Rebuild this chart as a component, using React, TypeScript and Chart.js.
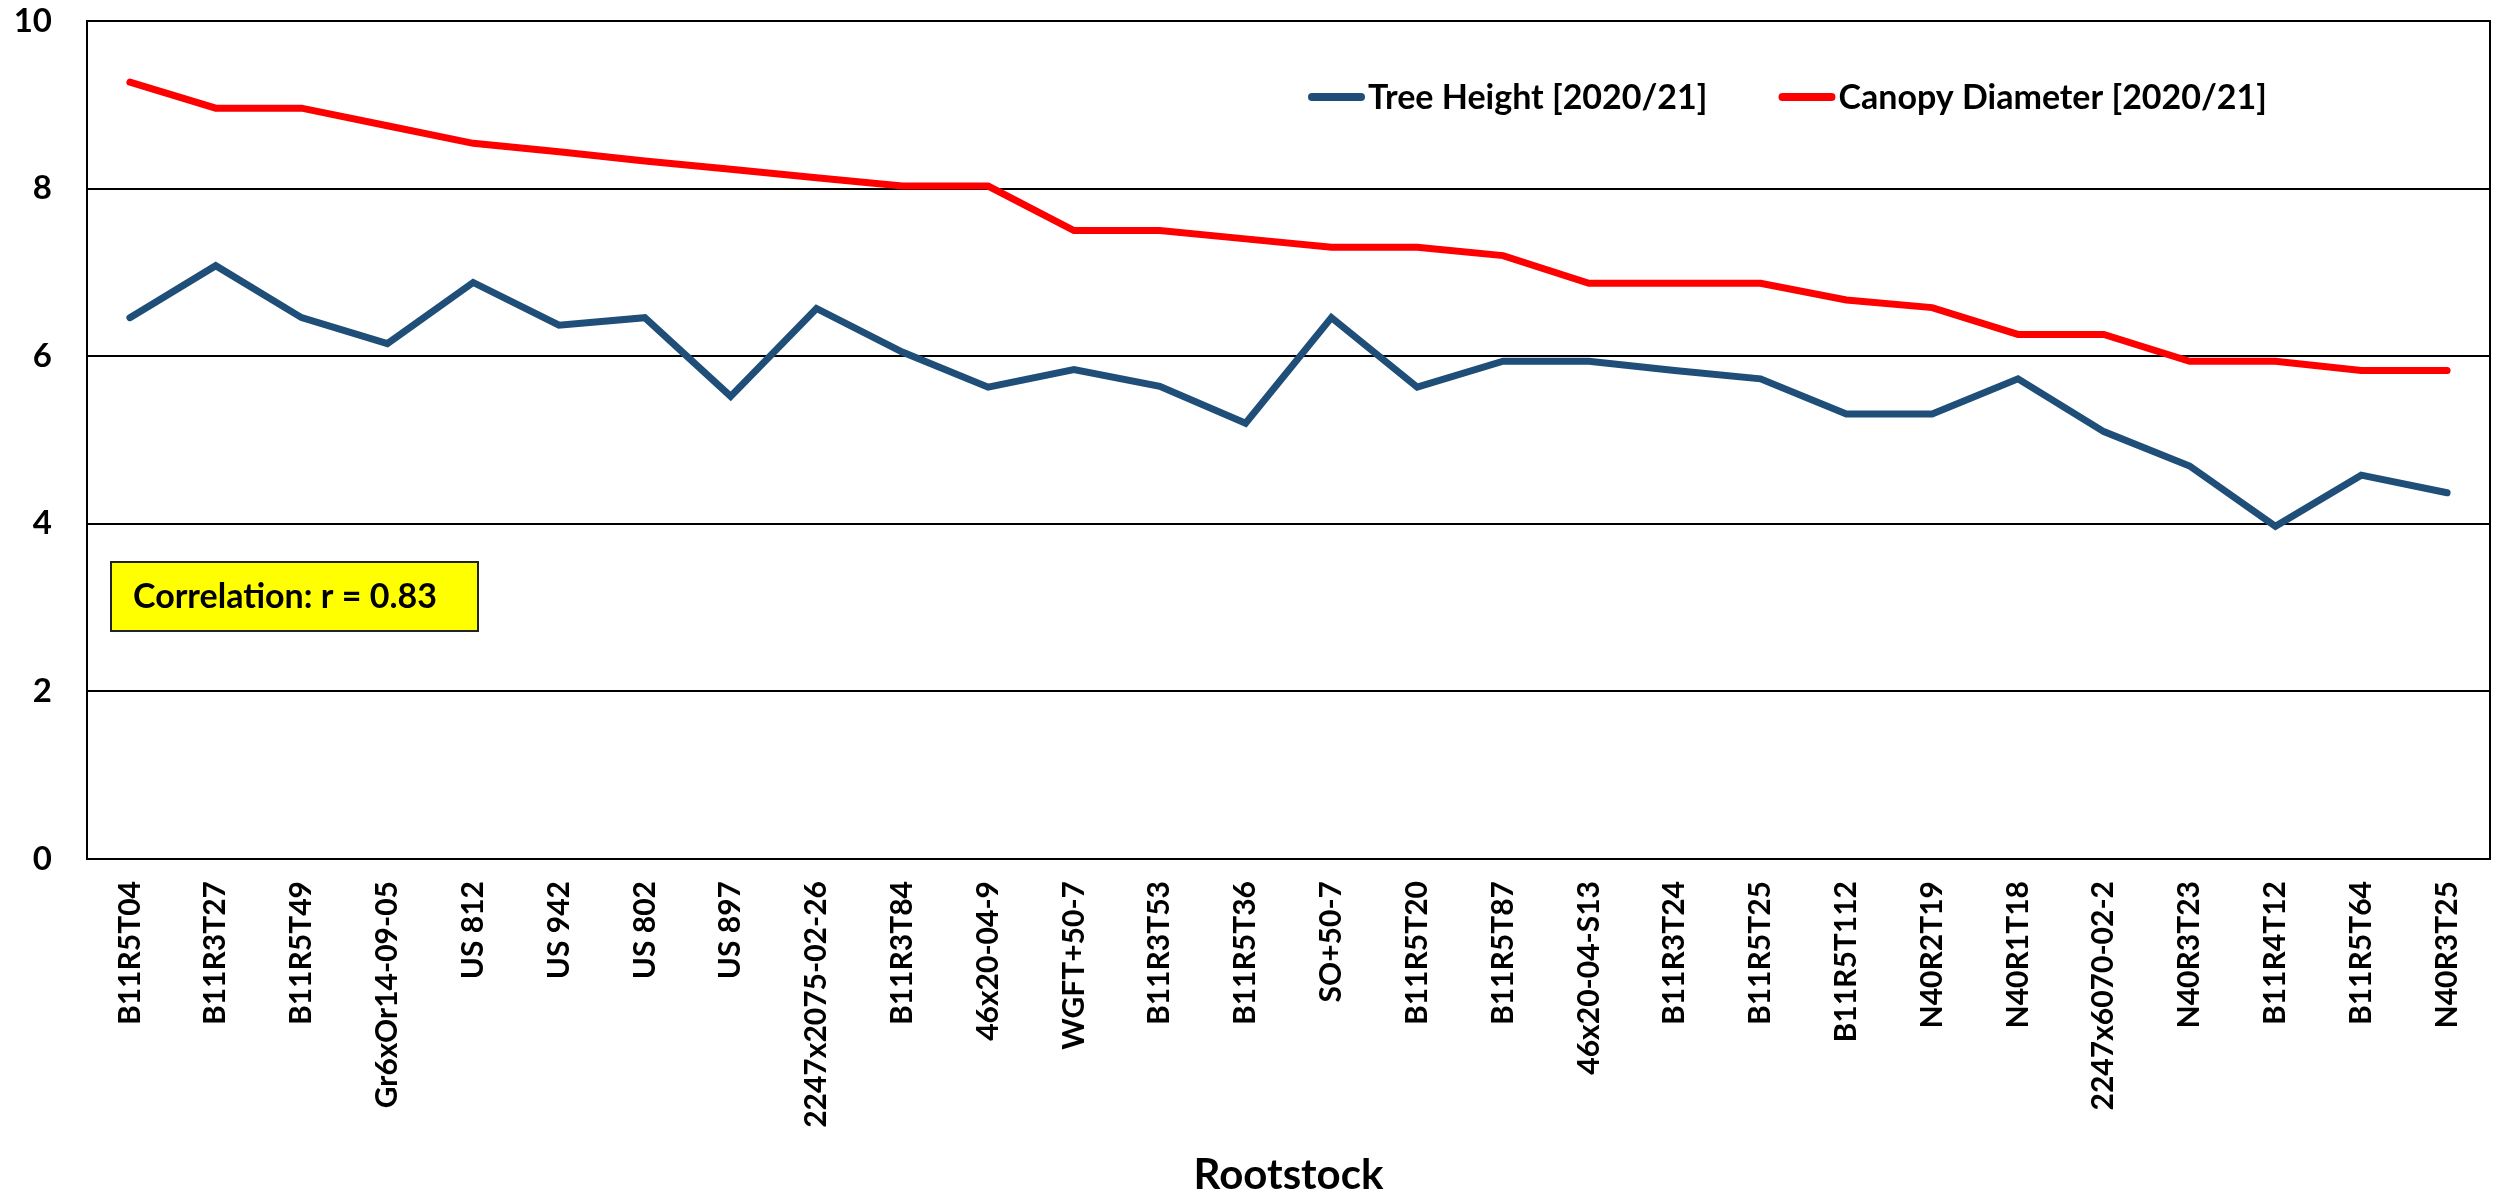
import React, { useEffect, useRef } from 'react';
import { Chart, registerables } from 'chart.js';

Chart.register(...registerables);

const rootstocks = [
  'B11R5T04', 'B11R3T27', 'B11R5T49', 'Gr6xOr14-09-05', 'US 812', 'US 942', 'US 802', 'US 897',
  '2247x2075-02-26', 'B11R3T84', '46x20-04-9', 'WGFT+50-7', 'B11R3T53', 'B11R5T36', 'SO+50-7',
  'B11R5T20', 'B11R5T87', '46x20-04-S13', 'B11R3T24', 'B11R5T25', 'B11R5T112', 'N40R2T19',
  'N40R1T18', '2247x6070-02-2', 'N40R3T23', 'B11R4T12', 'B11R5T64', 'N40R3T25',
];

const treeHeight = [
  6.46, 7.08, 6.46, 6.15, 6.88, 6.37, 6.46, 5.52, 6.57, 6.05, 5.63, 5.84, 5.64, 5.2,
  6.46, 5.63, 5.94, 5.94, 5.83, 5.73, 5.31, 5.31, 5.73, 5.1, 4.69, 3.97, 4.58, 4.37,
];

const canopyDiameter = [
  9.27, 8.96, 8.96, 8.75, 8.54, 8.44, 8.33, 8.23, 8.13, 8.03, 8.03, 7.5, 7.5, 7.4,
  7.3, 7.3, 7.2, 6.87, 6.87, 6.87, 6.67, 6.58, 6.26, 6.26, 5.94, 5.94, 5.83, 5.83,
];

const seriesLabels = ['Tree Height [2020/21]', 'Canopy Diameter [2020/21]'];
const seriesColors = ['#1F4E79', '#FF0000'];
const yMin = 0;
const yMax = 10;
const yStep = 2;
const correlationText = 'Correlation: r = 0.83';
const xAxisTitle = 'Rootstock';

const FONT = 'Lato, "Open Sans", "DejaVu Sans", sans-serif';

const overlayPlugin = {
  id: 'overlay',
  beforeDatasetsDraw(chart: any) {
    const { ctx, chartArea: ca } = chart;
    ctx.save();
    ctx.strokeStyle = '#000';
    ctx.lineWidth = 2;
    ctx.strokeRect(ca.left, ca.top, ca.right - ca.left, ca.bottom - ca.top);
    ctx.restore();
  },
  afterDraw(chart: any) {
    const { ctx, chartArea: ca } = chart;
    ctx.save();
    // Legend inside plot
    ctx.font = `bold 34px ${FONT}`;
    ctx.textBaseline = 'middle';
    ctx.textAlign = 'left';
    let x = ca.left + 1221;
    const y = ca.top + 76;
    chart.data.datasets.forEach((ds: any) => {
      ctx.strokeStyle = ds.borderColor;
      ctx.lineWidth = 8;
      ctx.lineCap = 'round';
      ctx.beginPath();
      ctx.moveTo(x + 4, y);
      ctx.lineTo(x + 53, y);
      ctx.stroke();
      ctx.fillStyle = '#000';
      ctx.fillText(ds.label, x + 60, y + 1);
      x += 60 + ctx.measureText(ds.label).width + 71;
    });

    // Correlation annotation box
    const bx = ca.left + 24;
    const by = ca.top + 541;
    const bw = 367;
    const bh = 69;
    ctx.fillStyle = '#FFFF00';
    ctx.fillRect(bx, by, bw, bh);
    ctx.strokeStyle = '#222';
    ctx.lineWidth = 2;
    ctx.strokeRect(bx, by, bw, bh);
    ctx.fillStyle = '#000';
    ctx.font = `bold 34px ${FONT}`;
    ctx.textBaseline = 'middle';
    ctx.fillText(correlationText, bx + 22, by + bh / 2 + 1);
    ctx.restore();
  },
};

export default function App() {
  const canvasRef = useRef<HTMLCanvasElement | null>(null);

  useEffect(() => {
    document.body.style.margin = '0';
    document.body.style.overflow = 'hidden';
    const canvas = canvasRef.current;
    if (!canvas) return;
    const chart = new Chart(canvas, {
      type: 'line',
      data: {
        labels: rootstocks,
        datasets: [
          {
            label: seriesLabels[0],
            data: treeHeight,
            borderColor: seriesColors[0],
            backgroundColor: seriesColors[0],
            borderWidth: 7,
            pointRadius: 0,
            pointHoverRadius: 0,
            tension: 0,
            borderCapStyle: 'round',
            borderJoinStyle: 'miter',
          },
          {
            label: seriesLabels[1],
            data: canopyDiameter,
            borderColor: seriesColors[1],
            backgroundColor: seriesColors[1],
            borderWidth: 7,
            pointRadius: 0,
            pointHoverRadius: 0,
            tension: 0,
            borderCapStyle: 'round',
            borderJoinStyle: 'miter',
          },
        ],
      },
      options: {
        responsive: false,
        animation: false,
        devicePixelRatio: 1,
        layout: { padding: { top: 21, right: 4, left: 0, bottom: 0 } },
        plugins: {
          legend: { display: false },
          tooltip: { enabled: false },
        },
        scales: {
          x: {
            type: 'category',
            offset: true,
            grid: { display: false, drawTicks: true, tickLength: 22 },
            border: { display: true, color: '#000', width: 2 },
            ticks: {
              autoSkip: false,
              minRotation: 90,
              maxRotation: 90,
              padding: 0,
              color: '#000',
              font: { family: FONT, size: 30, weight: 'bold' },
            },
            title: {
              display: true,
              text: xAxisTitle,
              color: '#000',
              padding: 0,
              font: { family: FONT, size: 42, weight: 'bold', lineHeight: 1 },
            },
            afterFit(scale: any) {
              scale.height = 337;
            },
          },
          y: {
            min: yMin,
            max: yMax,
            grid: {
              color: '#000',
              lineWidth: 2,
              drawTicks: true,
              tickLength: 35,
              tickColor: 'rgba(0,0,0,0)',
            },
            border: { display: true, color: '#000', width: 2 },
            ticks: {
              stepSize: yStep,
              padding: 0,
              color: '#000',
              font: { family: FONT, size: 33, weight: 'bold' },
            },
            afterFit(scale: any) {
              scale.width = 87;
            },
          },
        },
      },
      plugins: [overlayPlugin],
    } as any);
    return () => chart.destroy();
  }, []);

  return (
    <div style={{ position: 'absolute', left: 0, top: 0, width: 2494, height: 1196, background: '#fff' }}>
      <canvas ref={canvasRef} width={2494} height={1196} style={{ display: 'block' }} />
    </div>
  );
}
